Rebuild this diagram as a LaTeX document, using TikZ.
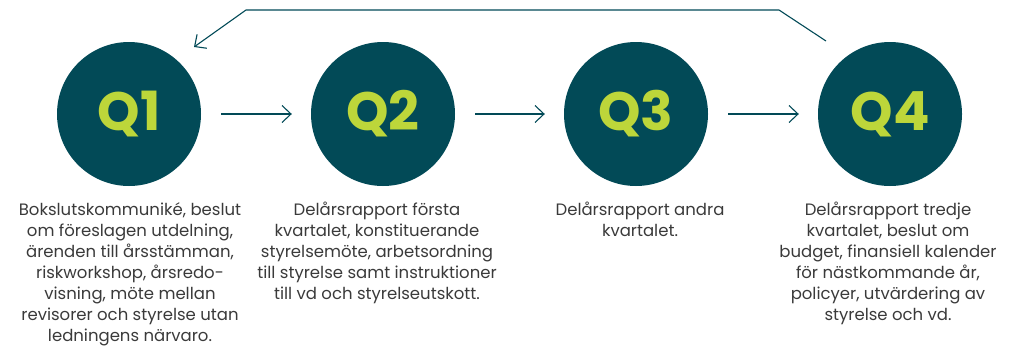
\documentclass[tikz,border=0pt]{standalone}
\usepackage{fontspec}
\setmainfont{Poppins}
\usetikzlibrary{arrows.meta}
\definecolor{teal}{HTML}{024A57}
\definecolor{lime}{HTML}{BDD63A}
\definecolor{txt}{HTML}{3A3A3A}
\tikzset{
  quarter/.style={circle, fill=teal, minimum size=144pt, inner sep=0pt,
    text=lime, font=\fontsize{54}{54}\selectfont\bfseries},
  note/.style={anchor=north, align=center, text=txt, inner sep=0pt,
    font=\fontsize{16.5}{21}\selectfont},
  flow/.style={draw=teal, line width=1.1pt, -{Straight Barb[length=9pt, width=17pt, line width=1.1pt]}}
}
\begin{document}
\begin{tikzpicture}[x=1pt, y=1pt]
    \useasboundingbox (0,0) rectangle (1025,-346);

    \node[quarter] (q1) at (129,-114) {Q1};
    \node[quarter] (q2) at (383,-114) {Q2};
    \node[quarter] (q3) at (636,-114) {Q3};
    \node[quarter] (q4) at (890,-114) {Q4};

    \node[note] (t1) at (130,-202) {Bokslutskommuniké, beslut\\om föreslagen utdelning,\\ärenden till årsstämman,\\riskworkshop, årsredo-\\visning, möte mellan\\revisorer och styrelse utan\\ledningens närvaro.};
    \node[note] (t2) at (377,-202) {Delårsrapport första\\kvartalet, konstituerande\\styrelsemöte, arbetsordning\\till styrelse samt instruktioner\\till vd och styrelseutskott.};
    \node[note] (t3) at (640,-202) {Delårsrapport andra\\kvartalet.};
    \node[note] (t4) at (888,-202) {Delårsrapport tredje\\kvartalet, beslut om\\budget, finansiell kalender\\för nästkommande år,\\policyer, utvärdering av\\styrelse och vd.};

    \coordinate (b4) at (826,-41);
    \coordinate (k4) at (779,-10);
    \coordinate (k1) at (246,-10);
    \coordinate (b1) at (194,-47);

    \begin{scope}[every path/.style={flow}]
       \draw[shorten <=20pt, shorten >=19pt] (q1) -- (q2);
       \draw[shorten <=20pt, shorten >=19pt] (q2) -- (q3);
       \draw[shorten <=20pt, shorten >=19pt] (q3) -- (q4);
       \draw (b4) -- (k4) -- (k1) -- (b1);
    \end{scope}

\end{tikzpicture}
\end{document}
